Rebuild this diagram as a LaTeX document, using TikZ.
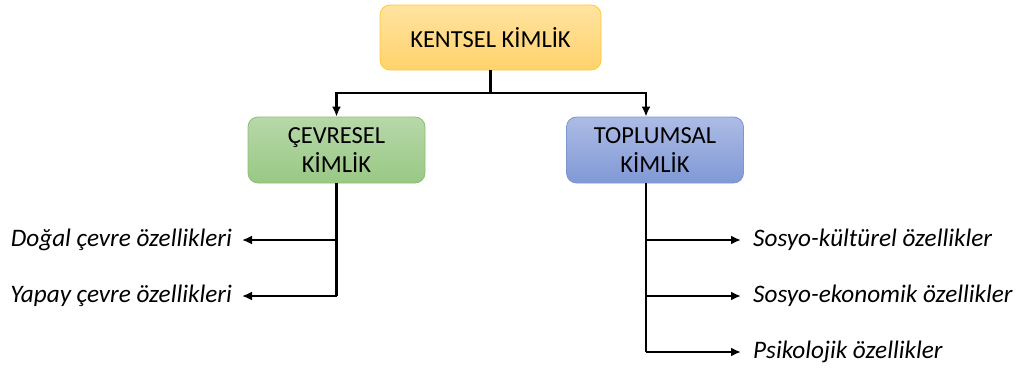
\documentclass[tikz,border=0pt]{standalone}
\usepackage{fontspec}
\setmainfont{Carlito}
\usetikzlibrary{positioning,arrows.meta}
\definecolor{orangetop}{HTML}{FFE3A0}
\definecolor{orangebot}{HTML}{FFD36C}
\definecolor{orangeline}{HTML}{FFC83A}
\definecolor{greentop}{HTML}{B7D8A9}
\definecolor{greenbot}{HTML}{99C885}
\definecolor{greenline}{HTML}{8CBE72}
\definecolor{bluetop}{HTML}{ADBCE4}
\definecolor{bluebot}{HTML}{8098D6}
\definecolor{blueline}{HTML}{7E95CF}

\begin{document}
\begin{tikzpicture}[x=1pt, y=-1pt]
    \tikzset{box/.style={draw, rounded corners=10pt, line width=0.8pt, align=center,
                 font=\fontsize{24.5}{29}\selectfont},
             item/.style={inner sep=0pt, font=\fontsize{25.2}{30}\selectfont\itshape},
             conn/.style={line width=2.6pt},
             arr/.style={conn, -{Latex[length=10pt, width=9pt]}}}
    \useasboundingbox (0, 0) rectangle (1016, 370);
    \node[box, top color=orangetop, bottom color=orangebot, draw=orangeline,
          minimum width=221pt, minimum height=65pt] (kentsel) at (490.5, 37.5) {KENTSEL KİMLİK};
    \node[box, top color=greentop, bottom color=greenbot, draw=greenline,
          minimum width=177pt, minimum height=66pt] (cevresel) at (336.5, 150) {ÇEVRESEL\\KİMLİK};
    \node[box, top color=bluetop, bottom color=bluebot, draw=blueline,
          minimum width=177pt, minimum height=66pt] (toplumsal) at (655, 150) {TOPLUMSAL\\KİMLİK};
    \node[item, anchor=east] (dogal) at (232, 240) {Doğal çevre özellikleri};
    \node[item, anchor=east] (yapay) at (232, 296) {Yapay çevre özellikleri};
    \node[item, anchor=west] (kulturel) at (753, 240) {Sosyo-kültürel özellikler};
    \node[item, anchor=west] (ekonomik) at (753, 296) {Sosyo-ekonomik özellikler};
    \node[item, anchor=west] (psikolojik) at (753, 352) {Psikolojik özellikler};
    \coordinate (join) at (490.5, 93);
    \coordinate (left1) at (336.5, 240);
    \coordinate (left2) at (336.5, 296);
    \coordinate (right1) at (646, 240);
    \coordinate (right2) at (646, 296);
    \coordinate (right3) at (646, 352);
    % top level
    \draw[conn] (kentsel.south) -- (join);
    \draw[arr] (join) -| (cevresel.north);
    \draw[arr] (join) -| ([xshift=-9pt]toplumsal.north);
    % left branch
    \draw[conn] (cevresel.south) -- (left2);
    \draw[arr] (left1) -- ([xshift=10pt]dogal.east);
    \draw[arr] (left2) -- ([xshift=10pt]yapay.east);
    % right branch
    \draw[conn] ([xshift=-9pt]toplumsal.south) -- (right3);
    \draw[arr] (right1) -- ([xshift=-12pt]kulturel.west);
    \draw[arr] (right2) -- ([xshift=-12pt]ekonomik.west);
    \draw[arr] (right3) -- ([xshift=-12pt]psikolojik.west);
\end{tikzpicture}
\end{document}
